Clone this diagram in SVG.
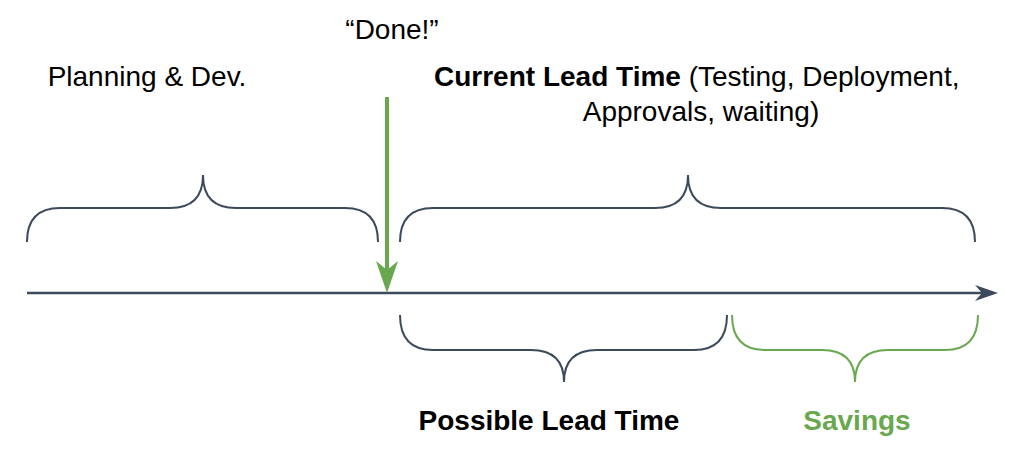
<svg xmlns="http://www.w3.org/2000/svg" width="1018" height="457" viewBox="0 0 1018 457">
<style>
text{font-family:"Liberation Sans",Arial,sans-serif;font-size:28px;fill:#000}
.b{font-weight:bold}
.br{fill:none;stroke:#3d4a5c;stroke-width:2}
.g{stroke:#6aa84f}
</style>
<rect width="1018" height="457" fill="#fff"/>
<g id="connectors">
<path d="M27,293 H990" stroke="#3d4a5c" stroke-width="2.5" fill="none"/>
<path d="M975,285 L998,293 L975,301 L982,293 Z" fill="#3d4a5c"/>
<path d="M387,97 V270" stroke="#6aa84f" stroke-width="4" fill="none"/>
<path d="M376,261 L387,293 L398,261 L387,270 Z" fill="#6aa84f"/>
</g>
<g id="brace-planning"><path class="br" d="M27,242 Q27,208 60,208 H170 Q203,208 203,175 Q203,208 236,208 H345 Q378,208 378,242"/></g>
<g id="brace-current"><path class="br" d="M400,242 Q400,208 433,208 H655 Q688,208 688,175 Q688,208 721,208 H942 Q975,208 975,242"/></g>
<g id="brace-possible"><path class="br" d="M400,315 Q400,350 433,350 H531 Q564,350 564,382 Q564,350 597,350 H694 Q727,350 727,315"/></g>
<g id="brace-savings"><path class="br g" d="M732,315 Q732,350 765,350 H822 Q855,350 855,382 Q855,350 888,350 H945 Q978,350 978,315"/></g>
<g id="labels">
<text x="147" y="86" text-anchor="middle">Planning &amp; Dev.</text>
<text x="392" y="39" text-anchor="middle">“Done!”</text>
<text x="434" y="86"><tspan class="b">Current Lead Time</tspan> (Testing, Deployment,</text>
<text x="701" y="121" text-anchor="middle">Approvals, waiting)</text>
<text x="549" y="430" text-anchor="middle" class="b">Possible Lead Time</text>
<text x="857" y="430" text-anchor="middle" class="b" style="fill:#6aa84f">Savings</text>
</g>
</svg>
